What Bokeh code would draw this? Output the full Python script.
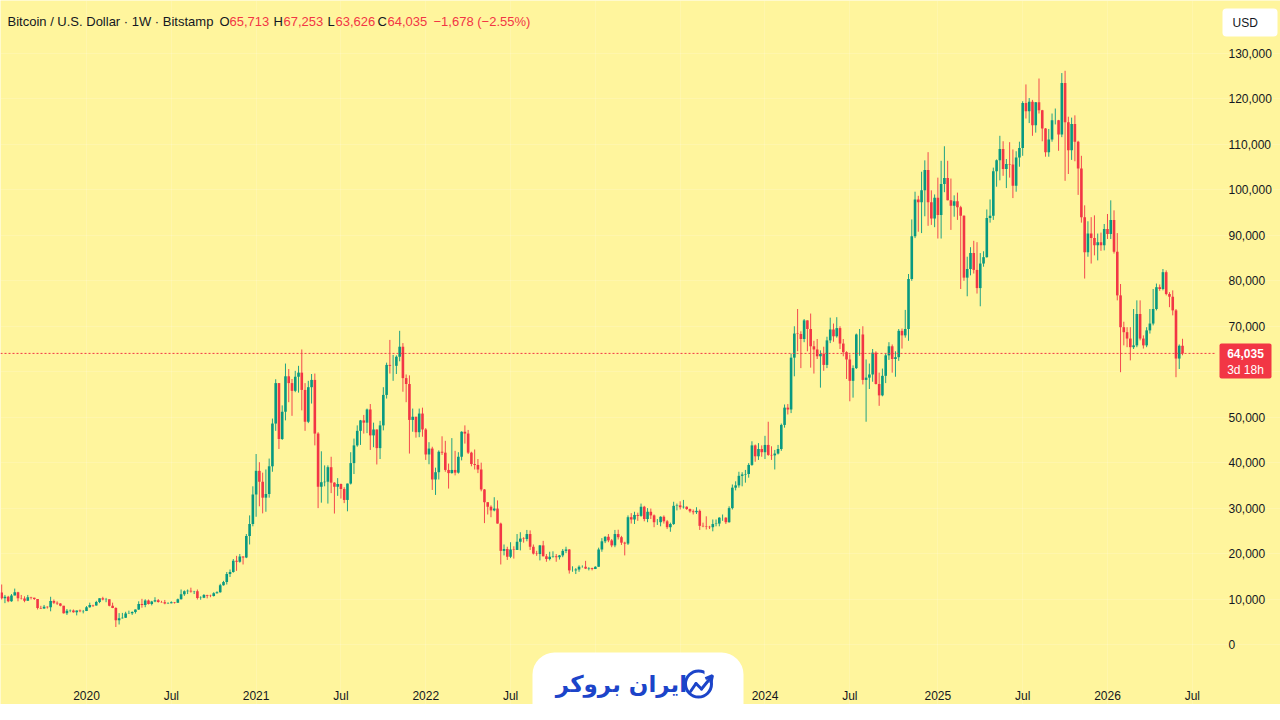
import pandas as pd
from bokeh.plotting import figure
from bokeh.models import (Range1d, FixedTicker, NumeralTickFormatter, Label,
                          BoxAnnotation, ColumnDataSource, Arrow, OpenHead)
from bokeh.embed import file_html
from bokeh.resources import INLINE

# ---------------- data (BTC/USD weekly, thousands of USD) ----------------
first_bar = "2019-07-08"
open_first_k = 11.45

close_k = [
    # 2019 (from Jul 8)
    10.2, 10.5, 9.5, 10.8, 11.5, 10.2, 10.1, 9.6, 10.4, 10.3, 10.0, 8.05, 7.9, 8.3, 8.2, 9.55, 9.2, 9.0, 8.5, 6.9, 7.4, 7.5, 7.1, 7.5, 7.3, 7.35,
    # 2020
    8.18, 8.7, 8.6, 9.35, 10.15, 9.9, 9.95, 8.55, 8.05, 5.35, 5.8, 5.9, 6.8, 6.9, 7.15, 7.7, 8.9, 8.7, 9.7, 8.9, 9.45, 9.75, 9.35, 9.3, 9.0, 9.05,
    9.3, 9.2, 9.95, 11.05, 11.7, 11.85, 11.65, 11.7, 10.25, 10.3, 10.9, 10.75, 10.65, 11.3, 11.5, 13.05, 13.75, 15.5, 15.95, 18.4, 18.2, 19.35, 19.15, 23.85, 26.5, 33.0,
    # 2021
    38.2, 35.8, 32.3, 33.1, 39.2, 48.6, 57.5, 45.2, 51.2, 59.0, 57.5, 55.8, 58.9, 59.8, 56.0, 49.0, 56.6, 58.2, 46.4, 34.7, 35.7, 35.8, 39.0, 35.6, 34.7, 35.3,
    34.2, 31.8, 35.4, 39.9, 43.8, 47.0, 49.3, 48.8, 51.7, 46.0, 47.3, 43.2, 48.2, 54.9, 61.5, 61.3, 61.3, 63.3, 65.5, 58.6, 57.3, 49.4, 50.1, 46.7, 50.8, 47.3,
    # 2022
    41.8, 43.1, 36.3, 37.9, 42.4, 42.2, 38.4, 37.7, 38.4, 37.8, 41.3, 46.8, 46.4, 42.2, 39.7, 39.5, 38.5, 34.1, 31.3, 30.3, 29.5, 29.9, 26.6, 20.6, 21.0, 19.3,
    20.9, 20.8, 22.6, 23.3, 23.2, 24.3, 21.5, 20.0, 19.9, 21.8, 19.4, 18.8, 19.3, 19.4, 19.2, 19.6, 20.6, 20.9, 16.3, 16.3, 16.5, 17.1, 17.1, 16.7, 16.8, 16.6,
    # 2023
    17.1, 20.9, 22.7, 23.7, 22.9, 21.8, 24.3, 23.6, 22.4, 22.2, 28.0, 27.5, 28.5, 28.3, 30.3, 27.6, 29.2, 28.4, 26.9, 26.9, 28.1, 27.1, 25.8, 26.5, 30.5, 30.6,
    30.2, 30.3, 29.8, 29.3, 29.1, 29.4, 26.1, 26.0, 25.9, 25.8, 26.5, 26.6, 27.9, 27.9, 26.9, 30.0, 34.5, 35.0, 37.1, 37.4, 37.5, 39.5, 43.8, 41.4, 43.0, 42.3,
    # 2024
    43.9, 41.7, 41.6, 42.0, 43.0, 48.3, 52.1, 51.7, 63.1, 68.4, 68.3, 67.2, 71.3, 69.4, 65.6, 64.9, 63.4, 63.9, 61.5, 66.9, 69.3, 67.8, 69.6, 66.2, 64.3, 62.7,
    58.0, 60.8, 68.2, 68.2, 58.2, 58.7, 59.4, 64.2, 57.3, 54.8, 59.1, 63.6, 65.6, 62.8, 63.2, 69.0, 68.0, 69.4, 80.4, 89.8, 97.9, 97.3, 99.9, 104.4, 97.3, 93.7,
    # 2025 (from Dec 30, 2024)
    98.3, 94.5, 101.3, 102.6, 97.7, 96.5, 97.5, 96.2, 94.3, 80.7, 82.6, 86.1, 82.4, 78.4, 83.8, 85.2, 93.8, 94.3, 104.1, 106.5, 109.0, 104.6, 105.7, 105.6, 100.9, 107.1, 109.2,
    119.1, 117.3, 119.4, 114.2, 119.3, 117.5, 113.5, 108.3, 111.1, 115.3, 115.3, 112.2, 123.5, 114.9, 108.7, 114.5, 110.6, 104.7, 94.0, 86.3, 90.4, 89.4, 87.8, 88.5, 87.8, 91.4,
    # 2026
    90.3, 93.4, 86.4, 76.8, 69.8, 68.7, 67.3, 65.4, 65.8, 72.7, 67.3, 65.8, 69.1, 70.6, 73.8, 78.6, 78.2, 81.9, 77.1, 76.5, 73.5, 62.9, 65.713, 64.035,
]

high_k = [
    13.2, 10.9, 10.7, 11.1, 12.3, 11.6, 10.9, 10.6, 10.9, 10.5, 10.3, 10.0, 8.5, 8.7, 8.4, 10.5, 9.9, 9.5, 9.1, 8.5, 7.8, 7.7, 7.7, 7.5, 7.7, 7.6,
    8.45, 9.2, 8.75, 9.6, 10.15, 10.5, 10.25, 9.95, 9.2, 8.2, 6.9, 6.95, 7.2, 7.45, 7.3, 7.7, 9.5, 10.05, 9.95, 9.9, 9.6, 10.4, 10.0, 9.6, 9.8, 9.3,
    9.5, 9.35, 10.1, 12.1, 11.9, 12.1, 12.5, 11.8, 12.1, 10.6, 11.1, 10.95, 10.95, 11.5, 11.7, 13.35, 14.0, 15.95, 16.5, 18.8, 19.5, 19.9, 19.4, 24.3, 28.4, 34.8,
    41.9, 40.1, 37.8, 38.5, 40.9, 49.7, 58.35, 57.5, 52.6, 61.8, 60.6, 58.4, 60.2, 61.3, 64.9, 57.5, 58.0, 59.5, 59.6, 46.7, 42.5, 39.4, 39.4, 41.3, 35.7, 36.6,
    35.4, 34.6, 35.4, 42.3, 45.3, 48.2, 49.4, 50.5, 51.9, 52.9, 48.8, 47.3, 49.2, 56.6, 62.0, 67.0, 63.7, 63.6, 69.0, 66.3, 59.4, 59.2, 51.9, 50.1, 51.9, 52.1,
    47.6, 44.5, 43.5, 38.9, 42.7, 45.8, 44.8, 39.8, 45.4, 42.6, 42.3, 46.9, 48.2, 47.2, 42.4, 42.9, 40.8, 40.0, 34.2, 31.3, 30.6, 32.4, 31.7, 26.8, 22.0, 21.5,
    22.5, 21.6, 24.3, 24.7, 23.6, 25.2, 25.1, 22.0, 20.6, 21.9, 22.8, 19.9, 20.4, 20.5, 19.9, 19.7, 21.0, 21.5, 21.0, 17.2, 16.8, 17.4, 17.4, 18.4, 17.0, 16.9,
    17.2, 21.3, 23.4, 23.8, 24.3, 23.2, 25.2, 25.25, 23.9, 22.6, 28.4, 28.9, 29.2, 29.0, 31.0, 30.5, 30.0, 29.9, 28.6, 27.6, 28.2, 28.4, 27.4, 26.8, 31.4, 31.0,
    31.5, 31.8, 30.4, 29.9, 29.7, 30.2, 29.7, 26.8, 28.2, 26.1, 27.5, 27.5, 28.0, 28.6, 28.0, 30.4, 35.2, 35.9, 38.0, 37.9, 38.4, 39.9, 44.7, 44.0, 44.3, 43.8,
    45.9, 49.0, 43.6, 42.8, 43.9, 48.6, 52.8, 52.9, 64.0, 70.0, 73.8, 68.9, 71.6, 71.3, 72.8, 66.8, 67.2, 64.7, 65.5, 67.7, 71.9, 70.6, 72.0, 70.0, 67.2, 64.5,
    63.8, 61.4, 68.4, 69.4, 70.0, 62.7, 61.8, 65.0, 64.5, 59.8, 60.7, 64.1, 66.5, 66.0, 64.5, 69.4, 69.5, 73.6, 81.5, 93.5, 99.6, 98.7, 104.0, 106.5, 108.3, 99.9,
    99.0, 102.7, 106.4, 109.6, 106.4, 102.5, 98.8, 99.4, 96.5, 94.4, 85.3, 87.4, 88.8, 88.5, 86.1, 86.5, 95.7, 97.9, 104.9, 106.7, 111.9, 110.7, 106.8, 110.5, 108.9, 108.5, 110.6,
    119.5, 123.2, 120.2, 119.8, 119.3, 124.5, 117.6, 113.6, 113.4, 116.8, 117.9, 115.4, 125.7, 126.2, 116.1, 115.9, 116.4, 110.8, 107.5, 96.6, 93.1, 94.0, 94.4, 90.4, 90.6, 92.5,
    94.7, 97.7, 95.5, 90.5, 79.3, 71.0, 69.8, 69.8, 73.8, 75.7, 75.7, 68.0, 69.8, 73.8, 78.2, 79.4, 79.2, 82.6, 82.3, 77.5, 77.9, 73.8, 66.0, 67.253,
]

low_k = [
    9.9, 9.1, 9.3, 9.4, 10.8, 9.5, 9.9, 9.3, 9.6, 9.9, 9.8, 7.7, 7.8, 7.85, 7.9, 7.3, 8.9, 8.7, 8.4, 6.8, 6.5, 7.1, 7.0, 6.4, 7.1, 6.85,
    7.35, 8.1, 8.25, 8.55, 9.1, 9.7, 9.3, 8.4, 8.0, 3.85, 4.4, 5.7, 5.85, 6.75, 6.5, 6.8, 7.6, 8.1, 8.2, 8.8, 8.6, 9.3, 9.2, 9.2, 8.85, 8.9,
    9.05, 9.0, 9.15, 9.9, 10.7, 11.1, 11.4, 11.1, 9.9, 9.85, 10.2, 10.15, 10.4, 10.55, 11.2, 11.4, 12.95, 13.2, 14.85, 15.8, 16.2, 18.0, 17.6, 19.0, 22.0, 26.0,
    28.1, 30.4, 28.85, 29.2, 32.3, 38.0, 47.0, 43.0, 45.0, 49.3, 53.3, 50.3, 55.5, 55.4, 51.5, 47.0, 48.7, 53.0, 43.8, 30.0, 31.2, 34.8, 31.0, 33.3, 28.8, 32.7,
    32.1, 31.1, 29.3, 35.2, 37.5, 43.5, 43.9, 46.4, 46.5, 42.8, 43.4, 39.6, 40.8, 47.1, 54.1, 59.6, 58.0, 59.5, 62.3, 55.6, 53.3, 42.0, 46.8, 45.5, 45.6, 45.7,
    40.6, 39.65, 34.0, 32.9, 36.3, 41.7, 38.0, 34.3, 37.6, 37.2, 37.6, 40.5, 44.2, 41.9, 39.2, 38.5, 37.7, 33.7, 26.7, 28.6, 28.0, 29.3, 26.6, 17.6, 19.6, 18.6,
    19.0, 18.9, 20.8, 20.7, 22.4, 22.7, 20.8, 19.8, 19.5, 18.5, 19.4, 18.2, 18.5, 19.1, 18.2, 18.7, 19.2, 20.1, 15.6, 16.0, 15.5, 16.0, 16.9, 16.6, 16.3, 16.3,
    16.6, 17.1, 20.4, 22.3, 22.5, 21.4, 21.4, 23.1, 21.9, 19.6, 21.9, 26.6, 26.5, 27.2, 28.1, 27.1, 26.9, 27.6, 25.8, 26.3, 26.0, 26.6, 25.4, 24.8, 26.3, 29.5,
    29.7, 29.9, 29.6, 29.0, 28.6, 28.7, 25.2, 25.8, 25.3, 25.4, 24.9, 26.0, 26.0, 27.2, 26.5, 26.8, 29.7, 33.9, 34.5, 34.8, 35.6, 36.7, 39.3, 40.2, 40.6, 41.3,
    40.8, 41.5, 40.6, 38.5, 41.8, 42.6, 47.7, 50.6, 50.9, 59.0, 64.5, 60.8, 66.5, 64.5, 60.9, 59.6, 62.8, 56.5, 60.2, 60.8, 66.3, 66.6, 67.5, 65.0, 63.4, 58.4,
    53.5, 54.3, 60.6, 63.5, 57.2, 49.0, 56.2, 57.8, 57.2, 52.5, 54.6, 57.5, 62.6, 59.8, 58.9, 62.4, 65.1, 67.5, 66.8, 80.0, 89.4, 90.8, 90.5, 94.2, 92.1, 92.3,
    91.8, 89.3, 89.3, 99.5, 97.7, 91.2, 94.1, 93.4, 78.2, 80.0, 76.6, 81.2, 81.6, 77.2, 74.4, 83.1, 85.1, 92.8, 93.4, 100.7, 102.1, 103.1, 100.4, 102.7, 98.2, 99.6, 105.1,
    107.5, 115.7, 114.7, 111.9, 112.6, 116.8, 110.7, 107.3, 107.3, 110.6, 114.4, 108.6, 111.6, 102.0, 103.5, 106.6, 106.3, 98.9, 92.8, 80.5, 85.3, 83.8, 85.6, 84.5, 86.6, 86.7,
    89.2, 89.2, 86.0, 75.7, 59.9, 65.8, 65.4, 62.5, 65.0, 65.4, 66.9, 65.1, 65.4, 68.4, 70.2, 73.5, 77.8, 77.9, 76.8, 74.2, 72.4, 58.8, 60.6, 63.626,
]

price_ticks = [0, 10000, 20000, 30000, 40000, 50000, 60000, 70000, 80000, 90000, 100000, 110000, 120000, 130000]
time_tick_dates = ["2020-01-06", "2020-07-06", "2021-01-04", "2021-07-05", "2022-01-03", "2022-07-04",
                   "2023-01-02", "2023-07-03", "2024-01-01", "2024-07-01", "2025-01-06", "2025-07-07",
                   "2026-01-05", "2026-07-06"]
time_tick_labels = ["2020", "Jul", "2021", "Jul", "2022", "Jul", "", "", "2024", "Jul", "2025", "Jul", "2026", "Jul"]

title_text = "Bitcoin / U.S. Dollar \u00b7 1W \u00b7 Bitstamp"
countdown_text = "3d 18h"
currency_text = "USD"
logo_text = "\u0627\u06cc\u0631\u0627\u0646 \u0628\u0631\u0648\u06a9\u0631"

# ---------------- styling / geometry ----------------
BG = "#FFF59D"
UP = "#089981"
DOWN = "#F23645"
TXT = "#131722"
LOGO_BLUE = "#1C44C9"
FONT = "Liberation Sans"

W, H = 1280, 704          # canvas; page below stays white
PANE_RIGHT_PX = 1218      # chart pane / price scale divider
TIME_AXIS_PX = 681        # chart pane / time scale divider
ZERO_PX, PX_PER_10K = 644.0, 45.46
LEFT_TIME = pd.Timestamp("2019-07-05 11:00")      # at pixel 0
DIVIDER_TIME = pd.Timestamp("2026-08-31 05:00")   # at pixel PANE_RIGHT_PX
WEEK_MS = 7 * 24 * 3600 * 1000


def val_at(py):
    return (ZERO_PX - py) * 10000.0 / PX_PER_10K


def ms(ts):
    return pd.Timestamp(ts).value / 1e6


X0, XD = ms(LEFT_TIME), ms(DIVIDER_TIME)


def t_at(px):
    return X0 + px * (XD - X0) / PANE_RIGHT_PX


# ---------------- build data source ----------------
n = min(len(close_k), len(high_k), len(low_k))
dates = pd.date_range(first_bar, periods=n, freq="7D")
open_k = [open_first_k] + close_k[:n - 1]
colors = [UP if c >= o else DOWN for o, c in zip(open_k, close_k[:n])]
src = ColumnDataSource(dict(
    t=dates,
    o=[v * 1000 for v in open_k],
    h=[v * 1000 for v in high_k[:n]],
    l=[v * 1000 for v in low_k[:n]],
    c=[v * 1000 for v in close_k[:n]],
    color=colors,
))

p = figure(width=W, height=H, x_axis_type="datetime", y_axis_location="right",
           x_range=Range1d(t_at(0), t_at(W)), y_range=Range1d(val_at(H), val_at(0)),
           output_backend="svg", toolbar_location=None, title=None,
           min_border_left=0, min_border_top=0, min_border_right=0, min_border_bottom=0,
           background_fill_color=BG, border_fill_color=BG, outline_line_color=None)

# axes drawn at the pane dividers (TradingView-like scales)
ya = p.yaxis[0]
ya.ticker = FixedTicker(ticks=price_ticks)
ya.formatter = NumeralTickFormatter(format="0,0")
ya.fixed_location = t_at(PANE_RIGHT_PX)
xa = p.xaxis[0]
tick_ms = [int(pd.Timestamp(d).value // 10**6) for d in time_tick_dates]
xa.ticker = FixedTicker(ticks=tick_ms)
xa.major_label_overrides = {t: lab for t, lab in zip(tick_ms, time_tick_labels)}
xa.fixed_location = val_at(TIME_AXIS_PX)
for ax, standoff in ((ya, 10), (xa, 7)):
    ax.axis_line_color = None
    ax.major_tick_line_color = None
    ax.minor_tick_line_color = None
    ax.major_tick_out = 0
    ax.major_tick_in = 0
    ax.major_label_standoff = standoff
    ax.major_label_text_font = FONT
    ax.major_label_text_font_size = "12px"
    ax.major_label_text_color = TXT

p.ygrid[0].bounds = (t_at(0), t_at(PANE_RIGHT_PX))
p.xgrid[0].bounds = (val_at(TIME_AXIS_PX), val_at(0))
for g in (p.xgrid[0], p.ygrid[0]):
    g.grid_line_color = "#ffffff"
    g.grid_line_alpha = 0.16

# candles
p.segment(x0="t", y0="h", x1="t", y1="l", source=src, line_color="color", line_alpha=0.9, line_width=1)
p.vbar(x="t", width=WEEK_MS * 0.8, top="o", bottom="c", source=src, fill_color="color", line_color=None)

last_o, last_h, last_l, last_c = open_k[n - 1] * 1000, high_k[n - 1] * 1000, low_k[n - 1] * 1000, close_k[n - 1] * 1000
last_col = colors[-1]

# last-price dotted line across the chart pane
p.segment(x0=[t_at(0)], y0=[last_c], x1=[t_at(PANE_RIGHT_PX - 2)], y1=[last_c],
          line_color=last_col, line_dash="2 2", line_width=1)


def box(left, right, top, bottom, fill=None, line=None, lw=1, radius=0):
    b = BoxAnnotation(left=t_at(left), right=t_at(right), top=val_at(top), bottom=val_at(bottom),
                      fill_color=fill if fill else "white", fill_alpha=1.0 if fill else 0.0,
                      line_color=line, line_alpha=1.0, line_width=lw)
    if radius and "border_radius" in BoxAnnotation.properties():
        b.border_radius = radius
    p.add_layout(b)
    return b


def label(px, py, text, color=TXT, size="13px", align="left", bold=False, font=FONT):
    p.add_layout(Label(x=t_at(px), y=val_at(py), text=text, text_color=color, text_font=font,
                       text_font_size=size, text_align=align, text_baseline="middle",
                       text_font_style="bold" if bold else "normal"))


# header legend
label(7, 21, title_text)
fmt = lambda v: f"{v:,.0f}"
for (lx, letter), (vx, val) in (((219, "O"), (229, last_o)), ((273, "H"), (283, last_h)),
                                ((327, "L"), (335, last_l)), ((377, "C"), (387, last_c))):
    label(lx, 21, letter)
    label(vx, 21, fmt(val), color=last_col)
chg = last_c - last_o
pct = chg / last_o * 100
sign = "\u2212" if chg < 0 else "+"
label(433, 21, f"{sign}{fmt(abs(chg))} ({sign}{abs(pct):.2f}%)", color=last_col)

# currency button
box(1222, 1277, 8, 36, fill="white", radius=4)
label(1232, 22, currency_text, size="12px")

# last price tag on the price scale
box(1219, 1271, 343, 378, fill=last_col, radius=2)
label(1245, 353, fmt(last_c), color="white", size="12px", align="center", bold=True)
label(1245, 369, countdown_text, color="white", size="12px", align="center")

# logo badge
box(532, 743, 652, 760, fill="white", radius=22)
label(621, 683, logo_text, color=LOGO_BLUE, size="23px", align="center", bold=True, font="DejaVu Sans")
box(685, 711, 670.5, 696.5, fill=None, line=LOGO_BLUE, lw=3, radius=13)
box(704, 715, 666, 679, fill="white")
pts = [(690, 691), (695.5, 683), (701, 688.5), (712, 675)]
for i in range(len(pts) - 1):
    (ax_, ay_), (bx_, by_) = pts[i], pts[i + 1]
    head = OpenHead(size=7, line_color=LOGO_BLUE, line_width=3) if i == len(pts) - 2 else None
    p.add_layout(Arrow(x_start=t_at(ax_), y_start=val_at(ay_), x_end=t_at(bx_), y_end=val_at(by_),
                       line_color=LOGO_BLUE, line_width=3, line_cap="round", start=None, end=head))

open("out.html", "w").write(file_html(p, INLINE))
